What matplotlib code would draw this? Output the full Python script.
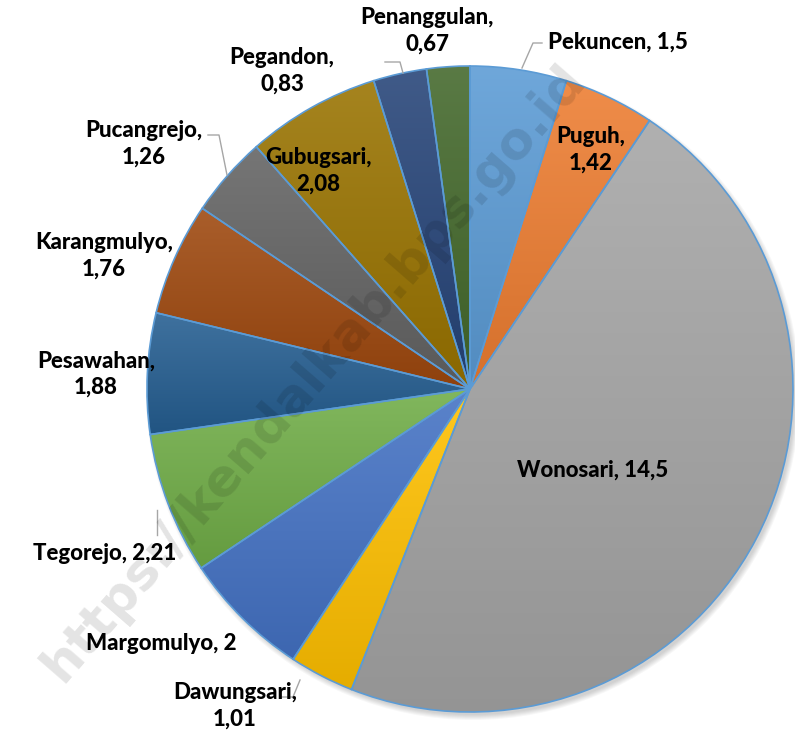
import numpy as np
import matplotlib.pyplot as plt
import matplotlib.colors as mcolors
from matplotlib.patches import Circle

plt.rcParams["font.family"] = ["Lato", "DejaVu Sans"]

# data, clockwise from 12 o'clock
desa = ["Pekuncen", "Puguh", "Wonosari", "Dawungsari", "Margomulyo", "Tegorejo",
        "Pesawahan", "Karangmulyo", "Pucangrejo", "Gubugsari", "Pegandon", "Penanggulan"]
nilai = [1.5, 1.42, 14.5, 1.01, 2, 2.21, 1.88, 1.76, 1.26, 2.08, 0.83, 0.67]
label_txt = ["Pekuncen, 1,5", "Puguh,\n1,42", "Wonosari, 14,5", "Dawungsari,\n1,01",
             "Margomulyo, 2", "Tegorejo, 2,21", "Pesawahan,\n1,88", "Karangmulyo,\n1,76",
             "Pucangrejo,\n1,26", "Gubugsari,\n2,08", "Pegandon,\n0,83", "Penanggulan,\n0,67"]
warna = ["#5B9BD5", "#ED7D31", "#A5A5A5", "#FFC000", "#4472C4", "#70AD47",
         "#255E91", "#9E480E", "#636363", "#997300", "#264478", "#43682B"]

W, H = 795, 734
fig = plt.figure(figsize=(W / 100, H / 100), dpi=100)
ax = fig.add_axes([0, 0, 1, 1])

cx, cy, r = 470, H - 389, 323


def py(y):
    return H - y


# soft shadow
for k in range(6):
    ax.add_patch(Circle((cx + 3, cy - 4), r + 4 - k, color="black", alpha=0.03, lw=0, zorder=0))
ax.add_patch(Circle((cx, cy), r, color="white", lw=0, zorder=0.5))

wedges, _ = ax.pie(nilai, colors=warna, startangle=90, counterclock=False,
                   center=(cx, cy), radius=r, frame=True,
                   wedgeprops=dict(edgecolor="#5B9BD5", linewidth=1.2))
ax.set_xlim(0, W)
ax.set_ylim(0, H)
ax.set_aspect("equal")
ax.axis("off")

# gradient fill per slice
for w, c in zip(wedges, warna):
    rgb = np.array(mcolors.to_rgb(c))
    top = rgb + (1 - rgb) * 0.12
    bot = rgb * 0.9
    ext = w.get_path().get_extents(w.get_patch_transform())
    t = np.linspace(0, 1, 128)[:, None]
    img = (top[None, :] * (1 - t) + bot[None, :] * t)[:, None, :]
    im = ax.imshow(img, extent=(ext.x0, ext.x1, ext.y0, ext.y1), origin="upper",
                   aspect="auto", zorder=w.get_zorder() + 0.1, interpolation="bilinear")
    im.set_clip_path(w)
    w.set_facecolor("none")
    w.set_zorder(w.get_zorder() + 0.2)

# watermark
ax.text(314, py(373), "https://kendalkab.bps.go.id", rotation=49, fontsize=37,
        fontweight="bold", color="black", alpha=0.11, ha="center", va="center",
        family="DejaVu Sans", zorder=10)

# labels (pixel positions)
pos = [(618, 42), (591, 150), (593, 470), (235, 706), (161, 643), (105, 553),
       (96, 374), (104, 256), (144, 144), (318, 171), (282, 71), (427, 31)]
for txt, (x, y) in zip(label_txt, pos):
    ax.text(x, py(y), txt, ha="center", va="center", fontsize=16, fontweight="black",
            color="black", linespacing=1.3, zorder=11)

# leader lines
leaders = [[(542, 43), (533, 43), (522, 68)],
           [(208, 135), (219, 135), (227, 175)],
           [(282, 697), (293, 697), (300, 680)],
           [(157, 535), (157, 510)],
           [(385, 62), (400, 62), (403, 73)]]
for pts in leaders:
    xs = [p[0] for p in pts]
    ys = [py(p[1]) for p in pts]
    ax.plot(xs, ys, color="#A6A6A6", lw=1, zorder=9)

fig.savefig("out.png", dpi=100)
